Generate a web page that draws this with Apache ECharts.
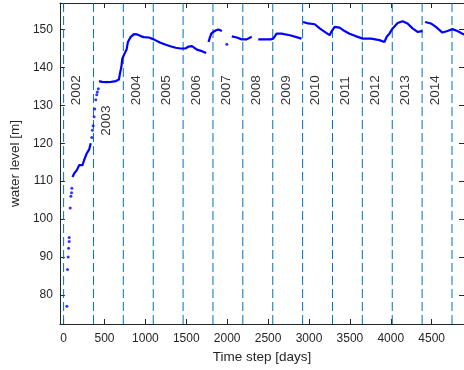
<!DOCTYPE html>
<html>
<head>
<meta charset="utf-8">
<script src="https://cdn.jsdelivr.net/npm/echarts@6/dist/echarts.min.js"></script>
<style>
  html, body { margin: 0; padding: 0; background: #fff; }
  #chart { width: 464px; height: 370px; }
</style>
</head>
<body>
<div id="chart"></div>
<script>
// year boundaries (day index) and labels
var yearStarts = [0, 365, 730, 1096, 1461, 1826, 2191, 2557, 2922, 3287, 3652, 4018, 4383, 4748]
var yearNames = ['2002', '2003', '2004', '2005', '2006', '2007', '2008', '2009', '2010', '2011', '2012', '2013', '2014', '2015']
var yearLabelLevel = [130, 122, 130, 130, 130, 130, 130, 130, 130, 130, 130, 130, 130, 130]

// continuous stretches of the water level record (null = gap)
var lineDays = [
  109, 129, 162, 190, 231, 250, 283, 312, 332, null,
  433, 470, 520, 580, 640, 676, 689, 706, 718, 746, 770, 786, 819, 859, 900, 950, 981, 1042, 1102, 1184, 1250, 1306, 1370, 1428, 1488, 1530, 1569, 1630, 1691, 1743, null,
  1772, 1784, 1805, 1833, 1865, 1893, 1935, null,
  2056, 2117, 2178, 2239, 2300, null,
  2380, 2461, 2530, 2563, 2604, 2664, 2766, 2847, 2908, null,
  2928, 2989, 3009, 3070, 3131, 3192, 3253, 3273, 3313, 3374, 3435, 3496, 3577, 3658, 3760, 3861, 3922, 3950, 3983, 4023, 4084, 4144, 4205, 4266, 4327, 4388, null,
  4420, 4490, 4551, 4632, 4693, 4754, 4815, 4876, 4900
]
var lineLevel = [
  111.1, 112.0, 112.9, 114.2, 114.2, 115.5, 117.3, 118.3, 120.0, null,
  136.4, 136.2, 136.1, 136.2, 136.4, 136.8, 138.4, 140.1, 142.3, 143.7, 144.7, 146.7, 148.0, 148.8, 148.7, 148.2, 148.0, 147.9, 147.4, 146.5, 146.0, 145.6, 145.2, 145.0, 145.0, 145.5, 145.6, 144.7, 144.3, 143.8, null,
  146.7, 147.6, 148.9, 149.4, 149.8, 150.0, 149.6, null,
  148.2, 147.9, 147.4, 147.4, 148.1, null,
  147.4, 147.4, 147.4, 147.6, 148.9, 148.9, 148.5, 148.0, 147.6, null,
  152.0, 151.6, 151.7, 151.4, 150.3, 149.4, 148.5, 149.4, 150.7, 150.5, 149.6, 148.9, 148.2, 147.6, 147.6, 147.2, 146.7, 148.1, 148.9, 150.3, 151.7, 152.2, 151.6, 150.3, 149.4, 149.6, null,
  152.0, 151.6, 150.7, 149.2, 149.6, 150.1, 149.6, 148.9, 148.7
]

// isolated observations
var dotDays = [40, 48, 56, 61, 68, 68, 81, 89, 97, 101, 345, 353, 361, 373, 381, 393, 405, 413, 425, 1995]
var dotLevel = [77.0, 86.7, 90.0, 92.3, 94.1, 95.1, 102.9, 106.0, 106.9, 108.1, 121.5, 123.4, 124.6, 127.0, 129.0, 131.5, 132.8, 133.5, 134.4, 146.1]

var yMin = 72.3
var yMax = 157

var font = 'Liberation Sans, Arial, sans-serif'
var axisColor = '#262626'
var yearLineColor = '#0072BD'

var chart = echarts.init(document.getElementById('chart'))

var lineData = lineDays.map(function (d, i) {
  return d === null ? ['-', '-'] : [d, lineLevel[i]]
})
var dotData = dotDays.map(function (d, i) { return [d, dotLevel[i]] })
var labelData = yearStarts.map(function (d, i) {
  return { name: yearNames[i], value: [d + 160, yearLabelLevel[i]] }
})

// one dashed series per year separator
var yearLineSeries = yearStarts.map(function (d, i) {
  return {
    name: 'sep' + yearNames[i],
    type: 'line',
    data: [[d, yMin], [d, yMax]],
    showSymbol: false,
    silent: true,
    itemStyle: { color: yearLineColor },
    lineStyle: { color: yearLineColor, width: 1, type: [9, 4] },
    z: 2
  }
})

var xBase = {
  type: 'value',
  min: -45,
  max: 4895,
  minInterval: 500,
  maxInterval: 500,
  axisLine: { show: true, onZero: false, lineStyle: { color: axisColor, width: 1 } },
  axisTick: { show: true, inside: true, length: 5, lineStyle: { color: axisColor } },
  splitLine: { show: false }
}
var yBase = {
  type: 'value',
  min: yMin,
  max: yMax,
  minInterval: 10,
  maxInterval: 10,
  axisLine: { show: true, onZero: false, lineStyle: { color: axisColor, width: 1 } },
  axisTick: { show: true, inside: true, length: 5, lineStyle: { color: axisColor } },
  splitLine: { show: false }
}

var option = {
  animation: false,
  grid: { left: 59, right: -1, top: 3, bottom: 46, containLabel: false },
  xAxis: [
    Object.assign({}, xBase, {
      position: 'bottom',
      name: 'Time step [days]',
      nameLocation: 'middle',
      nameGap: 26,
      nameTextStyle: { fontFamily: font, fontSize: 13.5, color: axisColor, verticalAlign: 'top' },
      axisLabel: {
        show: true, margin: 9, fontFamily: font, fontSize: 12, color: axisColor,
        showMinLabel: false, showMaxLabel: false,
        formatter: function (v) { return String(v) }
      }
    }),
    Object.assign({}, xBase, { position: 'top', axisLabel: { show: false } })
  ],
  yAxis: [
    Object.assign({}, yBase, {
      position: 'left',
      name: 'water level [m]',
      nameLocation: 'middle',
      nameGap: 30,
      nameTextStyle: { fontFamily: font, fontSize: 13.5, color: axisColor, verticalAlign: 'middle' },
      axisLabel: {
        show: true, margin: 7, fontFamily: font, fontSize: 12, color: axisColor,
        showMinLabel: false, showMaxLabel: false,
        formatter: function (v) { return String(v) }
      }
    }),
    Object.assign({}, yBase, { position: 'right', axisLabel: { show: false } })
  ],
  series: yearLineSeries.concat([
    {
      name: 'years',
      type: 'scatter',
      data: labelData,
      symbolSize: 0,
      z: 4,
      label: {
        show: true,
        position: 'inside',
        rotate: 90,
        align: 'left',
        verticalAlign: 'middle',
        formatter: function (p) { return p.name },
        fontFamily: font,
        fontSize: 13.5,
        color: '#000'
      }
    },
    {
      name: 'level',
      type: 'line',
      data: lineData,
      showSymbol: false,
      connectNulls: false,
      lineStyle: { color: '#0000ff', width: 2.2 },
      z: 3
    },
    {
      name: 'dots',
      type: 'scatter',
      data: dotData,
      symbolSize: 3,
      itemStyle: { color: '#0000ff' },
      z: 3
    }
  ])
}

chart.setOption(option)
</script>
</body>
</html>
